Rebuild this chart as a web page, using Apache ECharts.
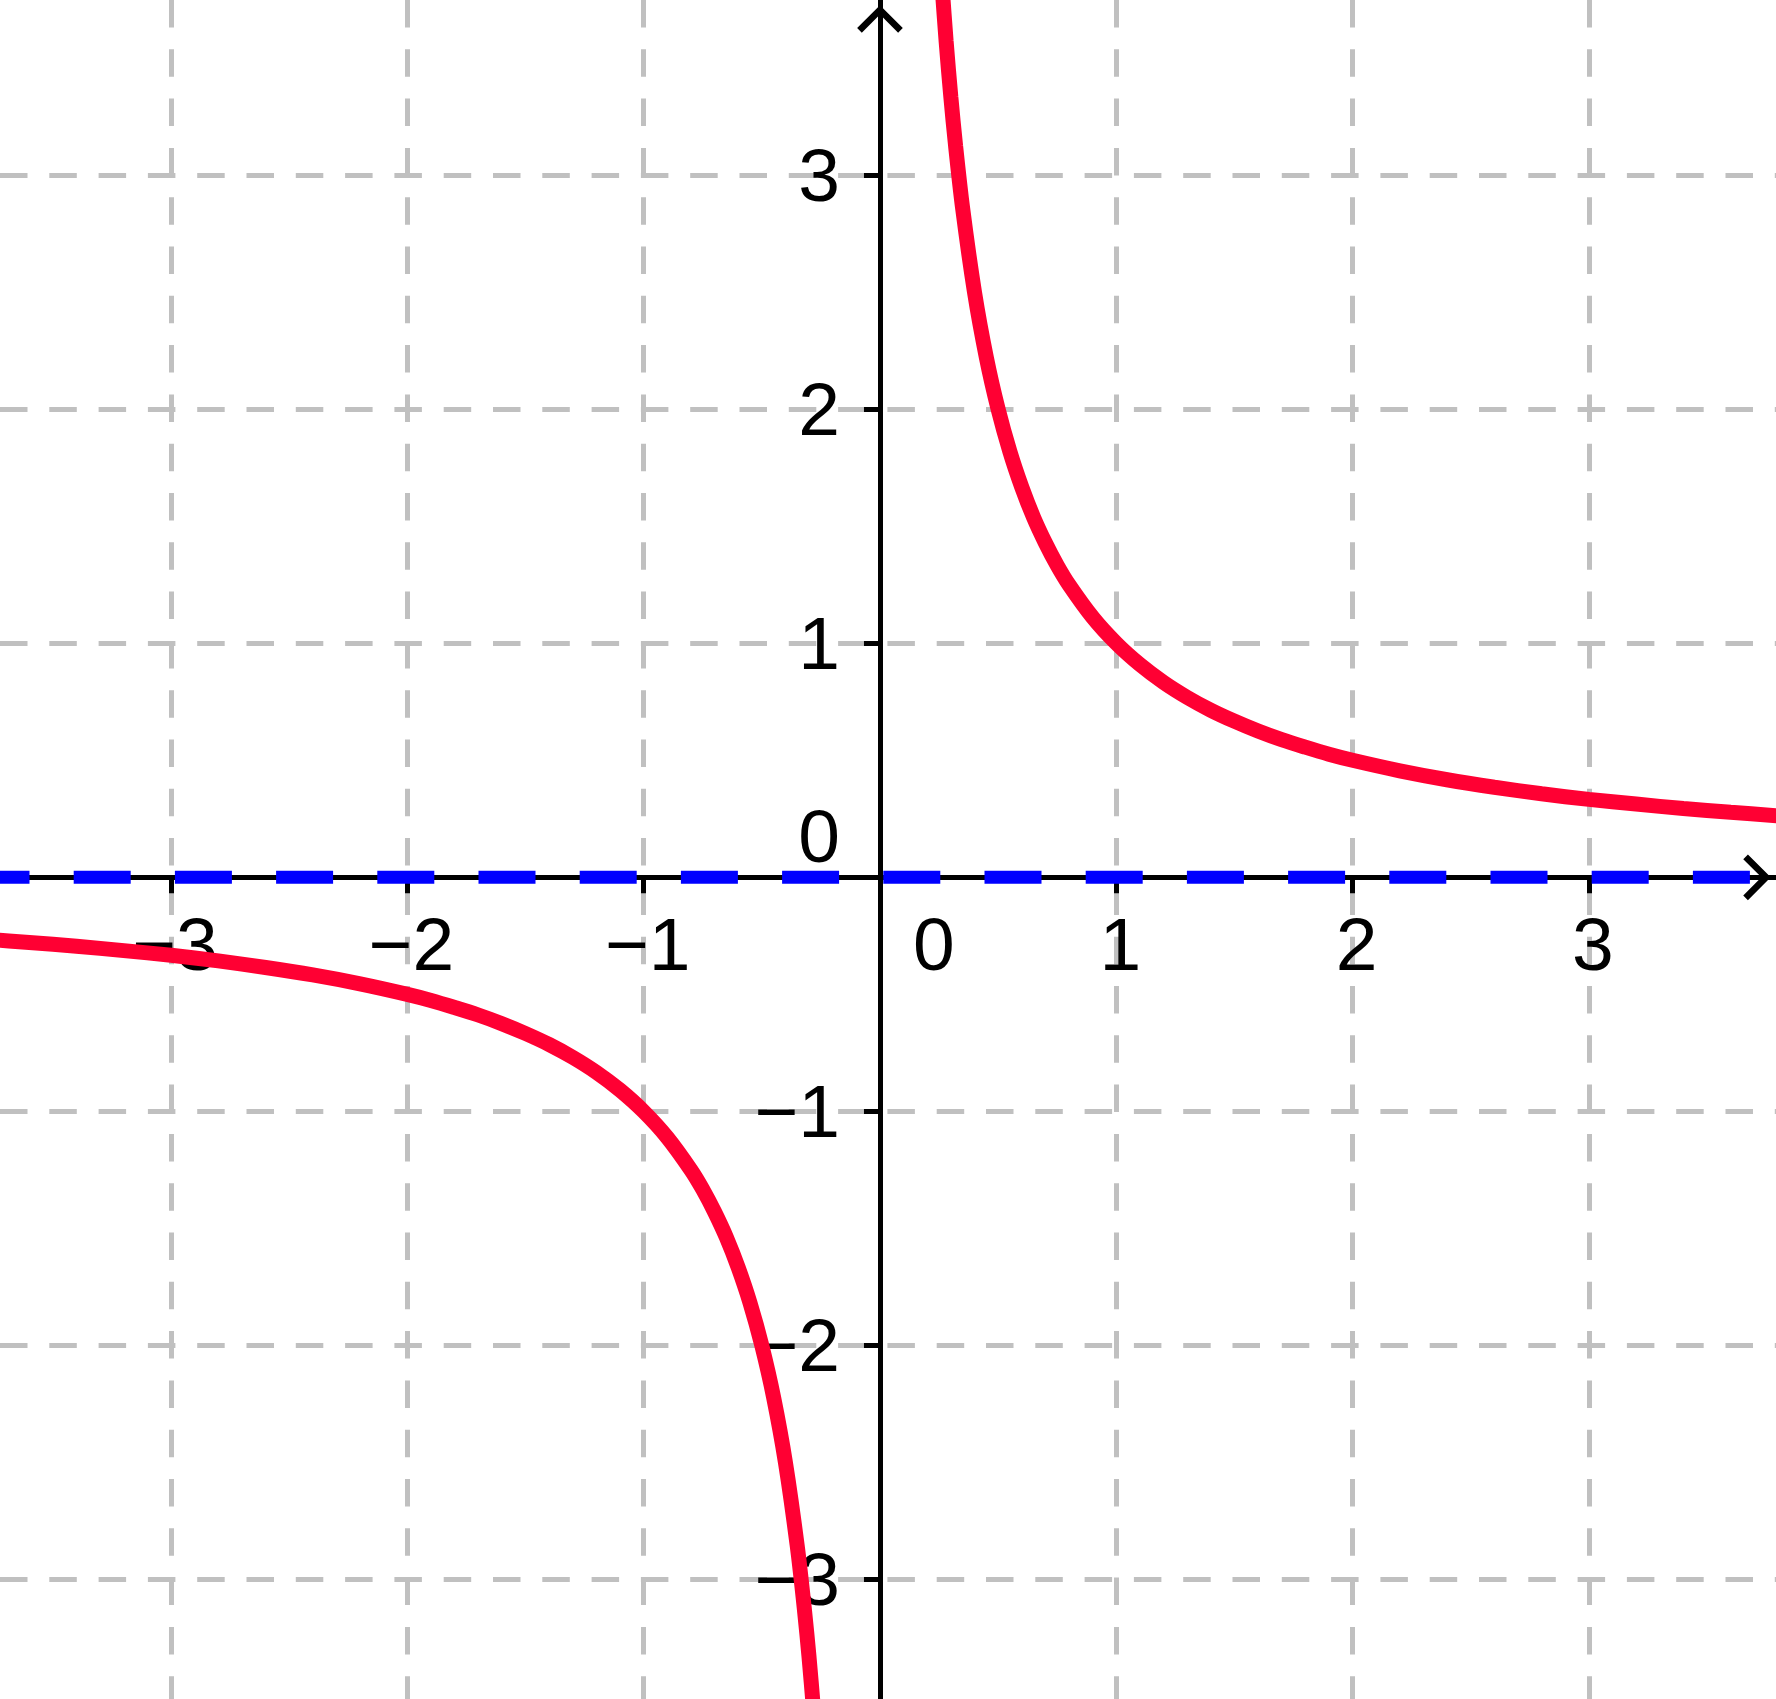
<!DOCTYPE html>
<html>
<head>
<meta charset="utf-8">
<script src="https://cdn.jsdelivr.net/npm/echarts@6/dist/echarts.min.js"></script>
<style>
html,body{margin:0;padding:0;background:#fff;}
#chart{width:1776px;height:1699px;}
</style>
</head>
<body>
<div id="chart"></div>
<script>
// Axis ranges
const xRange = [-3.724, 3.792];
const yRange = [-3.51, 3.748];
// Grid / tick values
const xTickValues = [-3, -2, -1, 0, 1, 2, 3];
const yTickValues = [-3, -2, -1, 0, 1, 2, 3];
// Tick labels (0 labels are placed separately next to the origin)
const xLabelValues = [-3, -2, -1, 1, 2, 3];
const yLabelValues = [-3, -2, -1, 1, 2, 3];
// Red curve, right branch
const rightBranchX = [0.26, 0.28, 0.3, 0.32, 0.35, 0.4, 0.45, 0.5, 0.55, 0.6, 0.65, 0.7, 0.75, 0.8, 0.9, 1.0, 1.1, 1.2, 1.3, 1.4, 1.5, 1.6, 1.7, 1.8, 1.9, 2.0, 2.2, 2.4, 2.6, 2.8, 3.0, 3.2, 3.4, 3.6, 3.8];
const rightBranchY = [3.846, 3.571, 3.333, 3.125, 2.857, 2.5, 2.222, 2.0, 1.818, 1.667, 1.538, 1.429, 1.333, 1.25, 1.111, 1.0, 0.909, 0.833, 0.769, 0.714, 0.667, 0.625, 0.588, 0.556, 0.526, 0.5, 0.455, 0.417, 0.385, 0.357, 0.333, 0.313, 0.294, 0.278, 0.263];
// Red curve, left branch
const leftBranchX = [-3.8, -3.6, -3.4, -3.2, -3.0, -2.8, -2.6, -2.4, -2.2, -2.0, -1.9, -1.8, -1.7, -1.6, -1.5, -1.4, -1.3, -1.2, -1.1, -1.0, -0.9, -0.8, -0.75, -0.7, -0.65, -0.6, -0.55, -0.5, -0.45, -0.4, -0.35, -0.32, -0.3, -0.28];
const leftBranchY = [-0.263, -0.278, -0.294, -0.313, -0.333, -0.357, -0.385, -0.417, -0.455, -0.5, -0.526, -0.556, -0.588, -0.625, -0.667, -0.714, -0.769, -0.833, -0.909, -1.0, -1.111, -1.25, -1.333, -1.429, -1.538, -1.667, -1.818, -2.0, -2.222, -2.5, -2.857, -3.125, -3.333, -3.571];
// Blue dashed asymptote y = 0
const asymptoteX = [-3.724, 3.792];
const asymptoteY = [0, 0];
// Origin "0" labels
const zeroLabelText = ['0', '0'];

function zip(a, b) { return a.map((v, i) => [v, b[i]]); }
function fmt(v) { return (v < 0 ? '\u2212' : '') + Math.abs(v); }

const chevron = 'path://M0,22 L22,0 L44,22 L39.5,26.5 L22,9 L4.5,26.5 Z';
const FONT = 'Liberation Sans, Arial, sans-serif';
const FS = 75;
const gridLine = { color: '#c0c0c0', width: 5, type: [27.5, 21.8], dashOffset: 0 };
const labelBase = { show: true, position: 'inside', fontSize: FS, fontFamily: FONT, color: '#000000',
  opacity: 1, textBorderWidth: 0, verticalAlign: 'middle' };

function axisCommon(range, ticks) {
  return {
    type: 'value', min: range[0], max: range[1], splitNumber: 7,
    axisLine: { show: true, onZero: true, lineStyle: { color: '#000', width: 5 },
      symbol: ['none', chevron], symbolSize: [46, 27.5], symbolOffset: [0, -19] },
    axisTick: { show: true, length: 16, lineStyle: { color: '#000', width: 5 }, customValues: ticks },
    axisLabel: { show: false, customValues: ticks },
    splitLine: { show: true, lineStyle: gridLine }
  };
}

const chart = echarts.init(document.getElementById('chart'), null, { renderer: 'canvas' });
chart.setOption({
  backgroundColor: '#ffffff',
  animation: false,
  grid: { left: 0, right: 0, top: 0, bottom: 0, containLabel: false, outerBoundsMode: 'none' },
  xAxis: axisCommon(xRange, xTickValues),
  yAxis: axisCommon(yRange, yTickValues),
  series: [
    {
      type: 'line', data: zip(asymptoteX, asymptoteY), showSymbol: false, silent: true, z: 3,
      lineStyle: { color: '#0000ff', width: 13, type: [57, 44.2], dashOffset: 27.5, cap: 'butt' }
    },
    {
      type: 'line', data: zip(rightBranchX, rightBranchY), showSymbol: false, silent: true, z: 4,
      smooth: 0.3,
      lineStyle: { color: '#ff0033', width: 15 }
    },
    {
      type: 'line', data: zip(leftBranchX, leftBranchY), showSymbol: false, silent: true, z: 4,
      smooth: 0.3,
      lineStyle: { color: '#ff0033', width: 15 }
    },
    {
      // x tick labels
      type: 'scatter', symbolSize: 0, silent: true, z: 2, itemStyle: { opacity: 1 },
      data: xLabelValues.map(v => ({ value: [v, 0], name: fmt(v) })),
      label: Object.assign({}, labelBase, { formatter: p => p.name, align: 'center', offset: [4, 72] })
    },
    {
      // y tick labels
      type: 'scatter', symbolSize: 0, silent: true, z: 2, itemStyle: { opacity: 1 },
      data: yLabelValues.map(v => ({ value: [0, v], name: fmt(v) })),
      label: Object.assign({}, labelBase, { formatter: p => p.name, align: 'right', offset: [-40, 5] })
    },
    {
      // origin labels
      type: 'scatter', symbolSize: 0, silent: true, z: 2, itemStyle: { opacity: 1 },
      data: [
        { value: [0, 0], name: zeroLabelText[0], label: { align: 'right', offset: [-40, -36] } },
        { value: [0, 0], name: zeroLabelText[1], label: { align: 'center', offset: [54, 72] } }
      ],
      label: Object.assign({}, labelBase, { formatter: p => p.name })
    }
  ]
});
</script>
</body>
</html>
